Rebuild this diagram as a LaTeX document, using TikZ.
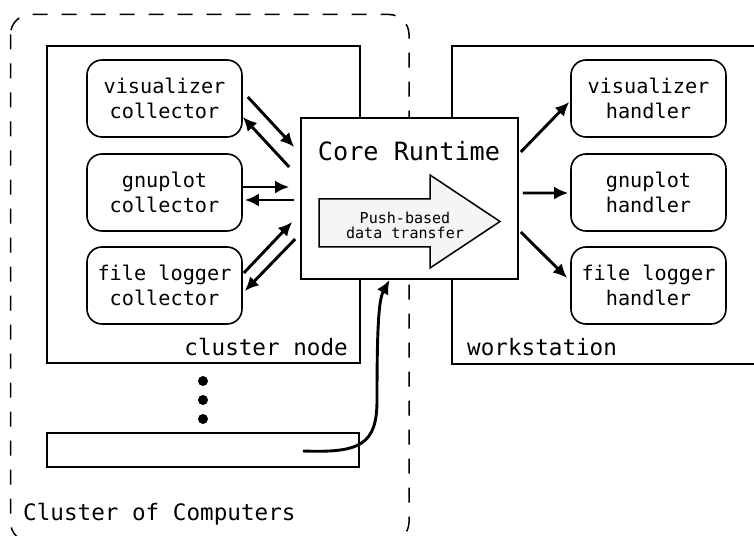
\documentclass[tikz,border=0pt]{standalone}
\usepackage{fontspec}
\setmainfont{DejaVu Sans Mono}
\usetikzlibrary{arrows.meta}
\begin{document}
\begin{tikzpicture}[x=1bp,y=-1bp,
  frame/.style={draw,line width=1.6bp,fill=white,inner sep=0pt},
  proc/.style={draw,line width=1.6bp,rounded corners=15bp,minimum width=155bp,
    minimum height=77bp,inner sep=0pt,align=center,
    font=\fontsize{20.3}{25}\selectfont},
  flow/.style={line width=2.9bp,-{Latex[length=14bp,width=13bp]}},
  lbl/.style={inner sep=0pt,font=\fontsize{22.7}{26}\selectfont},
  dotmark/.style={circle,fill,inner sep=0pt,minimum size=10bp}]
\clip (0,0) rectangle (754,536);

% cluster of computers (dashed enclosure)
\draw[line width=1.5bp,dash pattern=on 15bp off 14bp,rounded corners=20bp]
  (10.5,14.5) rectangle (409,542);

% machines
\node[frame,minimum width=313bp,minimum height=317bp] (cnode) at (203.5,204.5) {};
\node[frame,minimum width=348bp,minimum height=318bp] (ws) at (626,205) {};
\node[frame,minimum width=312bp,minimum height=34bp] (bnode) at (203,450) {};
\node[dotmark] (d1) at (203,381) {};
\node[dotmark] (d2) at (203,400) {};
\node[dotmark] (d3) at (203,419) {};

% core runtime
\node[frame,minimum width=217bp,minimum height=161bp] (core) at (409.5,198.5) {};
\node[inner sep=0pt,anchor=base,font=\fontsize{25.3}{30}\selectfont]
  (coretitle) at (409,161) {Core Runtime};
\draw[line width=1.5bp,fill=black!4]
  (319,199) -- (430,199) -- (430,175) -- (500,221.5) -- (430,268)
  -- (430,247) -- (319,247) -- cycle;
\node[inner sep=0pt,align=center,font=\fontsize{15.1}{15.5}\selectfont]
  (push) at (405,225.5) {Push-based\\data transfer};

% collectors
\node[proc] (vc) at (164.5,98.5) {visualizer\\collector};
\node[proc] (gc) at (164.5,192.5) {gnuplot\\collector};
\node[proc] (fc) at (164.5,285.5) {file logger\\collector};

% handlers
\node[proc] (vh) at (648.5,98.5) {visualizer\\handler};
\node[proc] (gh) at (648.5,192.5) {gnuplot\\handler};
\node[proc] (fh) at (648.5,285.5) {file logger\\handler};

% labels
\node[lbl,anchor=base east] (cnlabel) at (348,355) {cluster node};
\node[lbl,anchor=base west] (wslabel) at (467,355) {workstation};
\node[lbl,anchor=base west] (cclabel) at (23,520) {Cluster of Computers};

% collector <-> core
\draw[flow] ([shift={(5,-1.5)}]vc.east) -- ([shift={(-6,-51.5)}]core.west);
\draw[flow] ([shift={(-11,-31.5)}]core.west) -- ([shift={(0,18.5)}]vc.east);
\draw[flow] ([shift={(0,-5.5)}]gc.east) -- ([shift={(-11,-11.5)}]core.west);
\draw[flow] ([shift={(-6,1.5)}]core.west) -- ([shift={(2,7.5)}]gc.east);
\draw[flow] ([shift={(1,-12.5)}]fc.east) -- ([shift={(-8,23.5)}]core.west);
\draw[flow] ([shift={(-5,40.5)}]core.west) -- ([shift={(2,5.5)}]fc.east);

% core -> handlers
\draw[flow] ([shift={(2,-46.5)}]core.east) -- ([shift={(-1,3.5)}]vh.west);
\draw[flow] ([shift={(4,-5.5)}]core.east) -- ([shift={(-2,0.5)}]gh.west);
\draw[flow] ([shift={(2,33.5)}]core.east) -- ([shift={(-3,-7.5)}]fh.west);

% further cluster node -> core
\draw[flow] ([shift={(100,1)}]bnode.center)
  .. controls +(57,2) and +(0,45) .. ([shift={(174,-50)}]bnode.center)
  .. controls +(0,-70) and +(-11,20) .. ([shift={(-20,81.5)}]core.center);
\end{tikzpicture}
\end{document}
